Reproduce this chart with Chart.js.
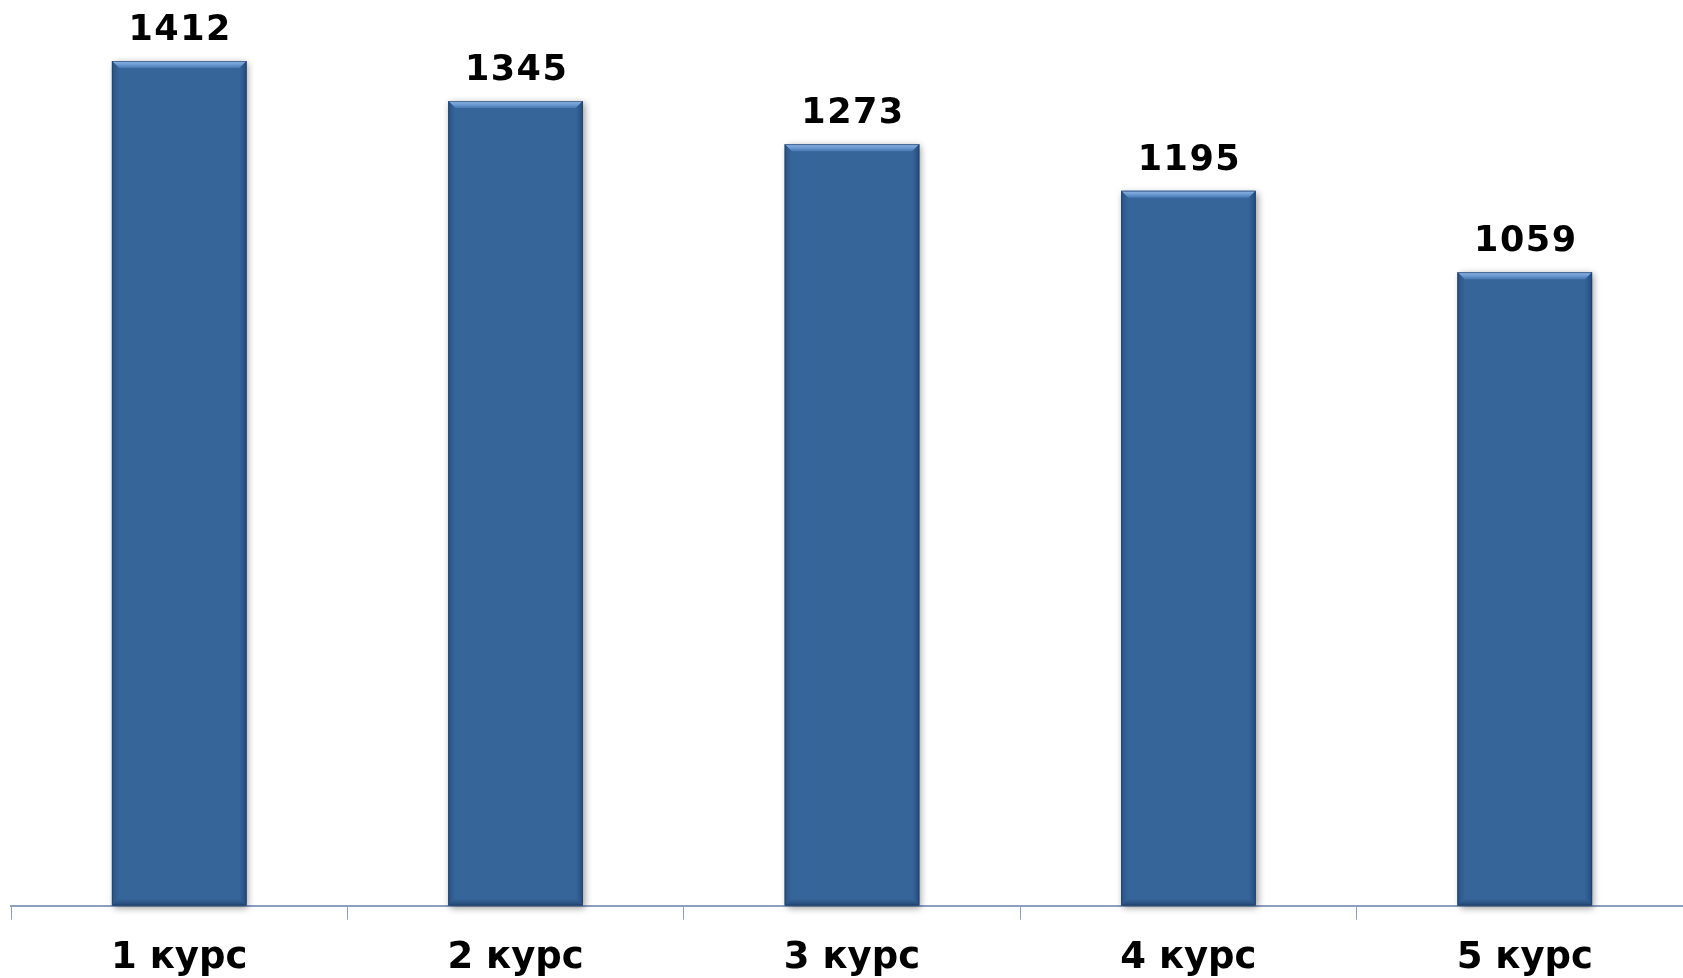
<!DOCTYPE html>
<html>
<head>
<meta charset="utf-8">
<script src="https://cdn.jsdelivr.net/npm/chart.js@4"></script>
<style>
  html, body { margin: 0; padding: 0; background: #fff; overflow: hidden; }
  #wrap { width: 1693px; height: 998px; }
</style>
</head>
<body>
<div id="wrap"><canvas id="chart"></canvas></div>
<script>
const categories = ['1 курс', '2 курс', '3 курс', '4 курс', '5 курс'];
const students = [1412, 1345, 1273, 1195, 1059];

const labelFont = { family: '"DejaVu Sans", Verdana, sans-serif', weight: 'bold', size: 37 };

// value labels above the bars
const valueLabels = {
  id: 'valueLabels',
  afterDatasetsDraw(chart) {
    const { ctx } = chart;
    const meta = chart.getDatasetMeta(0);
    ctx.save();
    ctx.font = 'bold 35px "DejaVu Sans", Verdana, sans-serif';
    ctx.letterSpacing = '1.5px';
    ctx.fillStyle = '#000';
    ctx.textAlign = 'center';
    ctx.textBaseline = 'alphabetic';
    meta.data.forEach((bar, i) => {
      ctx.fillText(students[i], bar.x + 1, bar.y - 21);
    });
    ctx.restore();
  }
};

// bevelled edges like the office chart style
const bevel = {
  id: 'bevel',
  beforeDatasetsDraw(chart) {
    const { ctx } = chart;
    const meta = chart.getDatasetMeta(0);
    ctx.save();
    ctx.shadowColor = 'rgba(0,0,0,0.4)';
    ctx.shadowBlur = 7;
    ctx.shadowOffsetX = 2;
    ctx.shadowOffsetY = 2;
    ctx.fillStyle = '#36659a';
    meta.data.forEach(bar => {
      const l = bar.x - bar.width / 2;
      ctx.fillRect(l, bar.y, bar.width, bar.base - bar.y);
    });
    ctx.restore();
  },
  afterDatasetsDraw(chart) {
    const { ctx } = chart;
    const meta = chart.getDatasetMeta(0);
    const b = 7;
    ctx.save();
    meta.data.forEach(bar => {
      const l = bar.x - bar.width / 2, r = bar.x + bar.width / 2;
      const t = bar.y, bt = bar.base;
      // top
      let g = ctx.createLinearGradient(0, t, 0, t + b);
      g.addColorStop(0, '#8fb5e3');
      g.addColorStop(0.5, '#6d9bd2');
      g.addColorStop(1, '#4678b3');
      ctx.fillStyle = g;
      ctx.beginPath();
      ctx.moveTo(l, t); ctx.lineTo(r, t); ctx.lineTo(r - b, t + b); ctx.lineTo(l + b, t + b);
      ctx.closePath(); ctx.fill();
      // left
      g = ctx.createLinearGradient(l, 0, l + b, 0);
      g.addColorStop(0, '#2b5283');
      g.addColorStop(1, '#36659a');
      ctx.fillStyle = g;
      ctx.beginPath();
      ctx.moveTo(l, t); ctx.lineTo(l + b, t + b); ctx.lineTo(l + b, bt - b); ctx.lineTo(l, bt);
      ctx.closePath(); ctx.fill();
      // right
      g = ctx.createLinearGradient(r - b, 0, r, 0);
      g.addColorStop(0, '#36659a');
      g.addColorStop(1, '#264b79');
      ctx.fillStyle = g;
      ctx.beginPath();
      ctx.moveTo(r, t); ctx.lineTo(r, bt); ctx.lineTo(r - b, bt - b); ctx.lineTo(r - b, t + b);
      ctx.closePath(); ctx.fill();
      // bottom
      g = ctx.createLinearGradient(0, bt - b, 0, bt);
      g.addColorStop(0, '#36659a');
      g.addColorStop(1, '#244874');
      ctx.fillStyle = g;
      ctx.beginPath();
      ctx.moveTo(l, bt); ctx.lineTo(l + b, bt - b); ctx.lineTo(r - b, bt - b); ctx.lineTo(r, bt);
      ctx.closePath(); ctx.fill();
      ctx.strokeStyle = 'rgba(30,60,100,0.6)';
      ctx.lineWidth = 1;
      ctx.strokeRect(l + 0.5, t + 0.5, bar.width - 1, bt - t - 1);
    });
    ctx.restore();
  }
};

new Chart(document.getElementById('chart'), {
  type: 'bar',
  data: {
    labels: categories,
    datasets: [{
      data: students,
      backgroundColor: '#36659a',
      borderWidth: 0,
      barPercentage: 0.4,
      categoryPercentage: 1.0
    }]
  },
  options: {
    responsive: true,
    maintainAspectRatio: false,
    animation: false,
    layout: { padding: { left: 11, right: 0, top: 0, bottom: 0 } },
    plugins: {
      legend: { display: false },
      tooltip: { enabled: false }
    },
    scales: {
      x: {
        grid: {
          display: true,
          drawOnChartArea: false,
          drawTicks: true,
          tickLength: 14,
          color: '#8d9fbd',
          offset: true
        },
        border: { display: true, color: '#8d9fbd', width: 2 },
        ticks: {
          color: '#000',
          font: labelFont,
          padding: 17
        }
      },
      y: {
        display: false,
        min: 0,
        max: 1514
      }
    }
  },
  plugins: [bevel, valueLabels]
});
</script>
</body>
</html>
